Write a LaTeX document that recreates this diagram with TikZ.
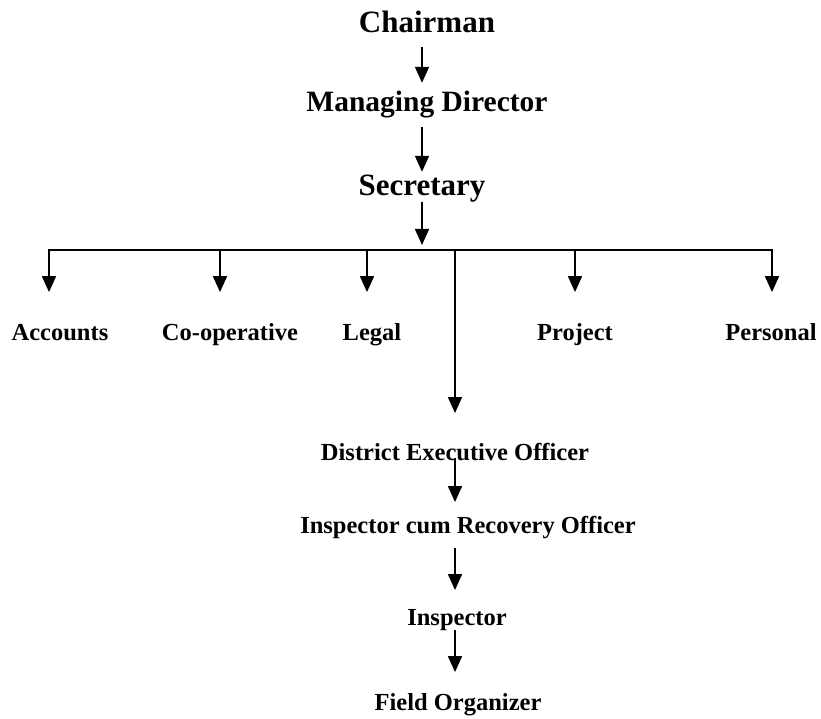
\documentclass[tikz,border=0pt]{standalone}
\usepackage{fontspec}
\setmainfont{Liberation Serif}
\usetikzlibrary{arrows.meta}

\tikzset{
  post/.style={inner sep=0pt, anchor=base, text height=16.7pt, text depth=0pt,
               font=\fontsize{24.5}{29}\selectfont\bfseries},
  head/.style={post, text height=20.4pt, font=\fontsize{31}{36}\selectfont\bfseries},
  link/.style={line width=1.7pt, -{Triangle[width=14pt,length=16pt]}},
}

\begin{document}
\begin{tikzpicture}[x=1pt, y=-1pt]
        \useasboundingbox (0,0) rectangle (821,719);

        % Draw the top posts
        \node[head] (chair) at (427,33)  {Chairman};
        \node[head, font=\fontsize{29.5}{36}\selectfont\bfseries] (md) at (427,112) {Managing Director};
        \node[head] (sec)   at (422,196) {Secretary};

        % Draw the departments
        \node[post] (acc)   at (60,340)  {Accounts};
        \node[post] (coop)  at (230,340) {Co-operative};
        \node[post] (legal) at (372,340) {Legal};
        \node[post] (proj)  at (575,340) {Project};
        \node[post] (pers)  at (771,340) {Personal};

        % Draw the district posts
        \node[post] (deo)  at (455,460) {District Executive Officer};
        \node[post] (icro) at (468,533) {Inspector cum Recovery Officer};
        \node[post] (insp) at (457,625) {Inspector};
        \node[post] (fo)   at (458,710) {Field Organizer};

        % Points on the bus line
        \coordinate (b0) at (422,250);
        \coordinate (b1) at (49,250);
        \coordinate (b2) at (220,250);
        \coordinate (b3) at (367,250);
        \coordinate (b4) at (455,250);
        \coordinate (b5) at (575,250);
        \coordinate (b6) at (772,250);
        \draw[line width=1.7pt, line cap=rect] (b1) -- (b6);

        % Connect the posts with arrows
        \draw[link, shorten <=14pt, shorten >=8.6pt] (chair.south -| sec) -- (md.north -| sec);
        \draw[link, shorten <=15pt, shorten >=3.6pt] (md.south -| sec) -- (sec.north);
        \draw[link, shorten <=6pt, shorten >=5pt] (sec.south) -- (b0);

        \foreach \b/\n in {b1/acc, b2/coop, b3/legal, b5/proj, b6/pers}
            \draw[link, shorten >=31pt] (\b) -- (\n.north -| \b);

        \draw[link, shorten >=30pt] (b4) -- (deo.north -| b4);
        \draw[link, shorten <=-2pt, shorten >=14pt] (deo.south) -- (icro.north -| deo);
        \draw[link, shorten <=15pt, shorten >=18pt] (icro.south -| deo) -- (insp.north -| deo);
        \draw[link, shorten <=5pt, shorten >=21pt] (insp.south -| deo) -- (fo.north -| deo);
\end{tikzpicture}
\end{document}
